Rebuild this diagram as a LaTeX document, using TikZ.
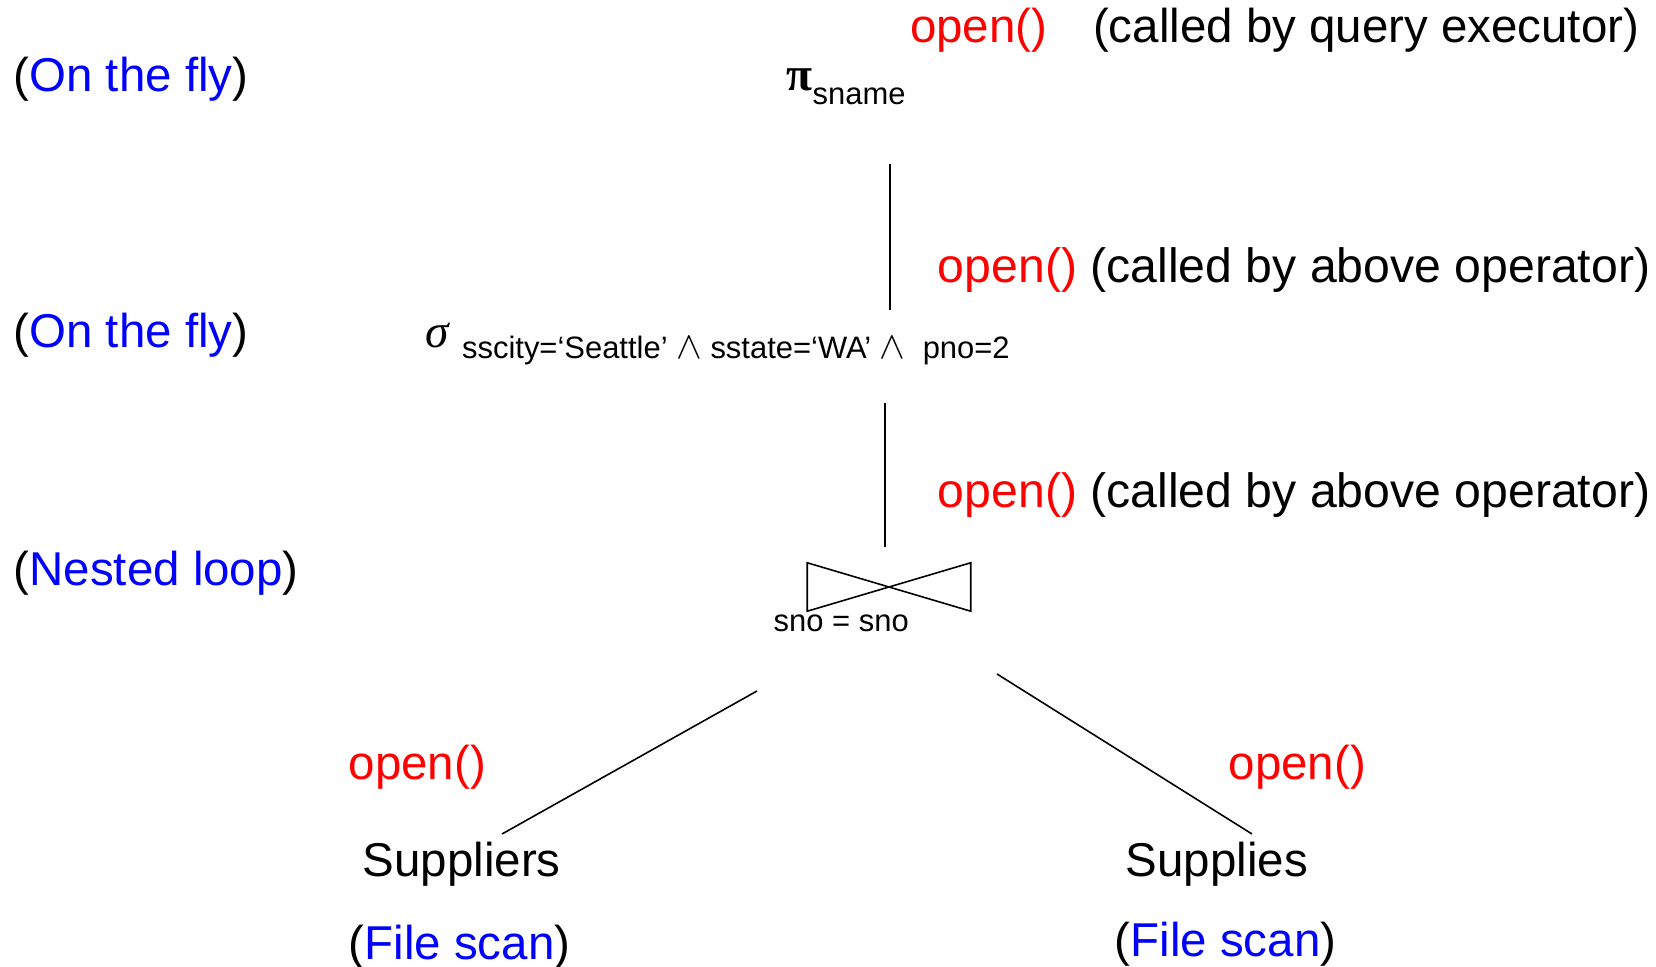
\documentclass[tikz,border=0pt]{standalone}
\usepackage{fontspec}
\setmainfont{Liberation Sans}
\newfontfamily\grk{Liberation Serif}
\usetikzlibrary{positioning}
\definecolor{opred}{RGB}{255,0,0}
\definecolor{algblue}{RGB}{0,0,255}
\newcommand{\fsbig}{\fontsize{13.5pt}{16pt}\selectfont}
\newcommand{\fscall}{\fontsize{13.7pt}{16pt}\selectfont}
\newcommand{\fssmall}{\fontsize{8.8pt}{10pt}\selectfont}
\newcommand{\AND}{{\fontsize{10.5pt}{10pt}\selectfont$\wedge$}}
\tikzset{
    txt/.style = {inner sep=0pt, anchor=base west, font=\fsbig},
    txtr/.style = {inner sep=0pt, anchor=base east, font=\fsbig},
    small/.style = {inner sep=0pt, anchor=base west, font=\fssmall},
    joinbox/.style = {inner sep=0pt, minimum width=1.62cm, minimum height=0.47cm},
    edgen/.style = {line width=0.45pt, black},
}
\newcommand{\Rd}[1]{\textcolor{opred}{#1}}
\newcommand{\Bu}[1]{\textcolor{algblue}{#1}}

\begin{document}
\begin{tikzpicture}[x=0.01cm, y=-0.01cm]
\useasboundingbox (0,0) rectangle (1656,967);
% algorithm notes on the left
\node[txt] at (13, 92) (fly1) {(\Bu{On the fly})};
\node[txt] at (13, 348) (fly2) {(\Bu{On the fly})};
\node[txt] at (13, 586) (nest) {(\Bu{Nested loop})};
% plan operators
\node[txt] at (786, 91) (proj) {{\grk\bfseries π}\raisebox{-3.8pt}{\fssmall sname}};
\node[txt] at (425, 348) (sel) {{\grk\itshape σ}\hspace{3.7pt}\raisebox{-3.1pt}{\fssmall sscity=‘Seattle’ \AND\ sstate=‘WA’ \AND\ \ pno=2}};
\node[joinbox] at (889, 587) (join) {};
\node[small] at (773, 632) (cond) {sno = sno};
\node[txt] at (362, 877) (supr) {Suppliers};
\node[txt] at (1125, 877) (supy) {Supplies};
\node[txt] at (348, 960) (scanl) {(\Bu{File scan})};
\node[txt] at (1114, 957) (scanr) {(\Bu{File scan})};
% open() calls
\node[txtr] at (1640, 43) (open0) {\Rd{open()}\hspace{13pt}(called by query executor)};
\node[txtr, font=\fscall] at (1651, 283) (open1) {\Rd{open()} (called by above operator)};
\node[txtr, font=\fscall] at (1651, 508) (open2) {\Rd{open()} (called by above operator)};
\node[txt] at (348, 780) (openl) {\Rd{open()}};
\node[txt] at (1228, 780) (openr) {\Rd{open()}};
%
\coordinate (jl) at (757, 691);
\coordinate (sl) at (502, 834);
\coordinate (jr) at (997, 674);
\coordinate (sr) at (1252, 834);
\draw[edgen] (join.north west) -- (join.south west) -- (join.north east) -- (join.south east) -- cycle;
\draw[edgen, shorten <=0.59cm, shorten >=0.13cm] ([xshift=0.01cm]proj.south -| join.north) -- ([xshift=0.01cm]sel.north -| join.north);
\draw[edgen, shorten <=0.37cm, shorten >=0.16cm] ([xshift=-0.04cm]sel.south -| join.north) -- ([xshift=-0.04cm]join.north);
\draw[edgen] (jl) -- (sl);
\draw[edgen] (jr) -- (sr);
\end{tikzpicture}
\end{document}
